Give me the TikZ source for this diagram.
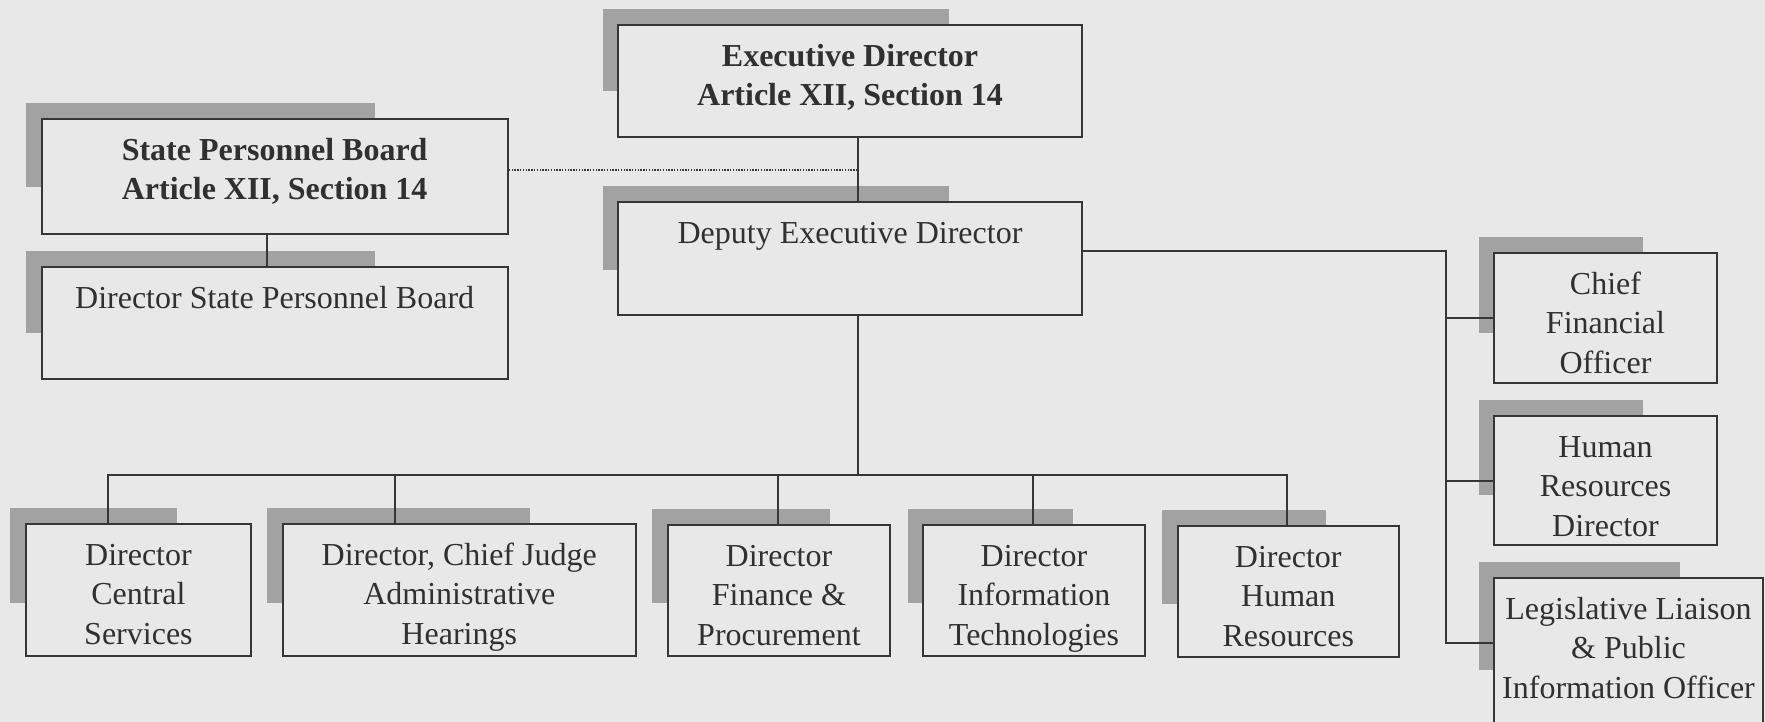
\documentclass[tikz,border=0pt]{standalone}
\usepackage{fontspec}
\setmainfont{Liberation Serif}
\usetikzlibrary{fit,calc}
\definecolor{bgc}{HTML}{E8E8E8}
\definecolor{shc}{HTML}{A2A2A2}
\definecolor{linec}{HTML}{363636}
\definecolor{txtc}{HTML}{303030}
\tikzset{
  orgframe/.style={draw=linec, line width=1pt, fill=bgc, inner sep=0pt, rectangle},
  orgtext/.style={text=txtc, align=center, inner sep=0pt, font=\fontsize{16}{19.7}\selectfont},
  conn/.style={draw=linec, line width=1pt},
  dotline/.style={draw=linec, line width=0.6pt, dash pattern=on 0.7pt off 0.7pt},
}
% #1 name, #2 x1, #3 y1, #4 x2, #5 y2, #6 shadow x2, #7 shadow y2, #8 text
\newcommand{\orgbox}[8]{%
  \fill[shc] (#2-15.5,#3-16) rectangle (#6,#7);
  \node[orgframe, fit={(#2,#3) (#4,#5)}] (#1) {};
  \node[orgtext, anchor=north] (#1t) at ({(#2+#4)/2},#3+13.4) {\strut #8};
}
\begin{document}
\begin{tikzpicture}[x=0.5pt,y=-0.5pt]
\useasboundingbox (0,0) rectangle (1765,722);
\clip (0,0) rectangle (1765,722);
\fill[bgc] (0,0) rectangle (1765,722);

\orgbox{exec}{618}{25}{1082}{137}{949}{91}{\bfseries Executive Director\\\bfseries Article XII, Section 14}
\orgbox{deputy}{618}{202}{1082}{315}{949}{270}{Deputy Executive Director}
\orgbox{spb}{41.6}{119}{507.7}{234}{375}{187}{\bfseries State Personnel Board\\\bfseries Article XII, Section 14}
\orgbox{dspb}{41.6}{267}{507.7}{379}{375}{333}{Director State Personnel Board}

\orgbox{cfo}{1494}{253}{1717}{383}{1643}{333}{Chief\\Financial\\Officer}
\orgbox{hrd}{1494}{416}{1717}{545}{1643}{495}{Human\\Resources\\Director}
\orgbox{ll}{1494}{578}{1763}{760}{1680}{670}{Legislative Liaison\\\& Public\\Information Officer}

\orgbox{cs}{25.9}{524}{251}{655.5}{176.7}{603}{Director\\Central\\Services}
\orgbox{cj}{282.5}{524}{636}{655.5}{530}{603}{Director, Chief Judge\\Administrative\\Hearings}
\orgbox{fin}{667.5}{525}{890.4}{655.5}{829.6}{603}{Director\\Finance \&\\Procurement}
\orgbox{it}{923}{525}{1145}{656}{1073}{603}{Director\\Information\\Technologies}
\orgbox{hrb}{1177.5}{526}{1399}{657}{1326}{604}{Director\\Human\\Resources}

% connector coordinates
\coordinate (cx) at (858,170);
\coordinate (sx) at (267,250);
\coordinate (bus1) at (108,475);
\coordinate (bus2) at (395,475);
\coordinate (bus3) at (778,475);
\coordinate (bus4) at (1033,475);
\coordinate (bus5) at (1287,475);
\coordinate (busm) at (858,475);
\coordinate (rt) at (1446,251);
\coordinate (rb) at (1446,643);

\draw[conn] (exec.south -| cx) -- (deputy.north -| cx);
\draw[dotline] (spb.east |- cx) -- (cx);
\draw[conn] (spb.south -| sx) -- (dspb.north -| sx);
\draw[conn] (deputy.south -| busm) -- (busm);
\draw[conn] (cs.north -| bus1) -- (bus1) -- (bus5) -- (hrb.north -| bus5);
\draw[conn] (bus2) -- (cj.north -| bus2);
\draw[conn] (bus3) -- (fin.north -| bus3);
\draw[conn] (bus4) -- (it.north -| bus4);
\draw[conn] (deputy.east |- rt) -- (rt) -- (rb) -- (ll.west |- rb);
\draw[conn] (cfo.west -| rt) -- (cfo.west);
\draw[conn] (hrd.west -| rt) -- (hrd.west);
\end{tikzpicture}
\end{document}
